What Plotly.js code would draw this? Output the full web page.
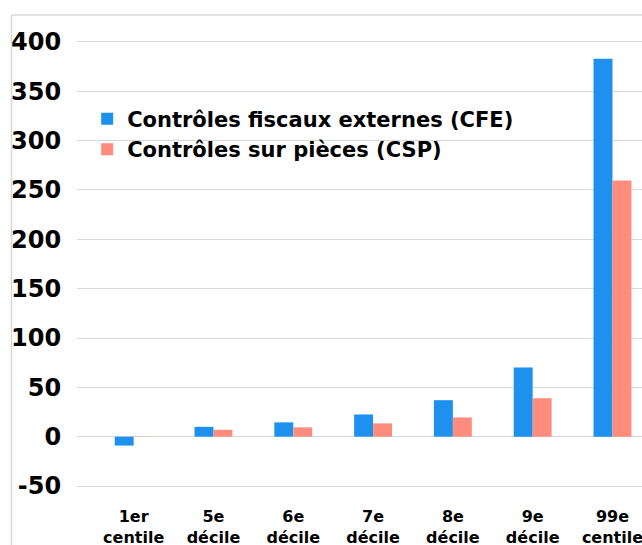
<!DOCTYPE html>
<html>
<head>
<meta charset="utf-8">
<script src="https://cdn.plot.ly/plotly-3.0.1.min.js"></script>
<style>html,body{margin:0;padding:0;background:#fff;}#chart{width:642px;height:545px;}</style>
</head>
<body>
<div id="chart"></div>
<script>
const categories = ["1er centile", "5e décile", "6e décile", "7e décile", "8e décile", "9e décile", "99e centile"];
const tickLabels = ["1er<br>centile", "5e<br>décile", "6e<br>décile", "7e<br>décile", "8e<br>décile", "9e<br>décile", "99e<br>centile"];
const cfeName = "Contrôles fiscaux externes (CFE)";
const cspName = "Contrôles sur pièces (CSP)";
const cfeValues = [-9, 10, 14.5, 22.5, 37, 70, 383];
const cspValues = [0.3, 7, 9.5, 13.5, 19.5, 39, 259.5];
const yTicks = [-50, 0, 50, 100, 150, 200, 250, 300, 350, 400];
const yTickText = ["-50", "0", "50", "100", "150", "200", "250", "300", "350", "400"];

const bold = {family: "DejaVu Sans, Verdana, sans-serif", color: "#000", weight: "bold"};

const traces = [
  {type: "bar", name: cfeName, x: categories, y: cfeValues,
   marker: {color: "#1e90ee", line: {width: 0}}},
  {type: "bar", name: cspName, x: categories, y: cspValues,
   marker: {color: "#ff8c7c", line: {width: 0}}}
];

const layout = {
  width: 642, height: 545,
  margin: {l: 77, r: 0, t: 40, b: 57},
  paper_bgcolor: "#fff", plot_bgcolor: "#fff",
  barmode: "group", bargap: 0.525, bargroupgap: 0,
  showlegend: true,
  legend: {
    x: 0.018, y: 0.869, xanchor: "left", yanchor: "top",
    font: Object.assign({}, bold, {size: 21}),
    bgcolor: "rgba(0,0,0,0)", traceorder: "normal"
  },
  xaxis: {
    type: "category", categoryorder: "array", categoryarray: categories,
    tickmode: "array", tickvals: categories, ticktext: tickLabels, tickangle: 0,
    range: [-0.71, 6.37], showgrid: false, zeroline: false, showline: false,
    ticks: "outside", ticklen: 14, tickcolor: "rgba(0,0,0,0)",
    tickfont: Object.assign({}, bold, {size: 16}), fixedrange: true
  },
  yaxis: {
    range: [-52, 402], tickmode: "array", tickvals: yTicks, ticktext: yTickText,
    showgrid: true, gridcolor: "#d9d9d9", gridwidth: 1,
    zeroline: true, zerolinecolor: "#d9d9d9", zerolinewidth: 1.5,
    showline: false, ticks: "outside", ticklen: 10, tickcolor: "rgba(0,0,0,0)",
    tickfont: Object.assign({}, bold, {size: 24}), fixedrange: true
  },
  shapes: [
    {type: "line", xref: "paper", yref: "paper", x0: -0.116, x1: -0.116, y0: 1.0558, y1: -0.2,
     line: {color: "#d9d9d9", width: 1.5}},
    {type: "line", xref: "paper", yref: "paper", x0: -0.116, x1: 1.05, y0: 1.0558, y1: 1.0558,
     line: {color: "#d9d9d9", width: 1.5}}
  ]
};

Plotly.newPlot("chart", traces, layout, {displayModeBar: false, staticPlot: true});
</script>
</body>
</html>
